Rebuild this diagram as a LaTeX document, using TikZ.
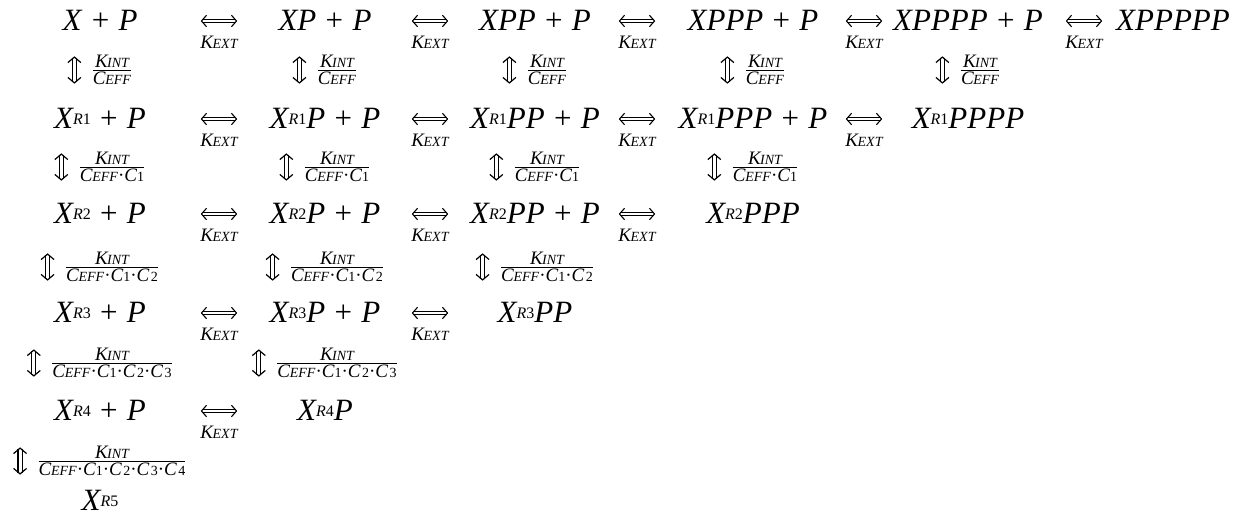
\documentclass[tikz,border=0pt]{standalone}
\usepackage{fontspec}
\setmainfont{Liberation Serif}
\usetikzlibrary{arrows.meta,positioning}
\newcommand{\spc}{\hspace{0.3em}}
\newcommand{\pls}{\spc\textup{+}\spc}
\newcommand{\Rs}[1]{\raisebox{4pt}{\fontsize{16}{16}\selectfont R\textup{#1}}}
\newcommand{\Ksub}[1]{K\kern-0.5pt{\fontsize{14}{14}\selectfont #1}}
\newcommand{\Csub}[1]{C\kern-0.3pt{\fontsize{14}{14}\selectfont #1}}
\newcommand{\Cn}[1]{C{\fontsize{14}{14}\selectfont\upshape #1}}
\newcommand{\cdt}{\textup{·}}
\newcommand{\kfrac}[2]{$\textstyle{\mbox{#1}\above 1.1pt\mbox{#2}}$}
\begin{document}
\begin{tikzpicture}[x=1pt,y=-1pt,
  sp/.style={anchor=base, inner sep=0pt, font=\fontsize{31}{31}\selectfont\itshape},
  kl/.style={anchor=base, inner sep=0pt, font=\fontsize{19}{19}\selectfont\itshape},
  fr/.style={anchor=base, inner sep=0pt, font=\fontsize{19}{19}\selectfont\itshape},
  tipb/.tip={Straight Barb[length=5pt, width=11.5pt, line width=1.1pt]},
  tipv/.tip={Straight Barb[length=5.5pt, width=13pt, line width=1.2pt]},
  dbl/.style={double, double distance=2.8pt, line width=1pt, tipb-tipb},
  dblv/.style={double, double distance=3pt, line width=1.1pt, tipv-tipv},
  harr/.style={minimum width=36pt, minimum height=11pt, inner sep=0pt,
    append after command={(\tikzlastnode.west) edge[dbl] (\tikzlastnode.east)}},
  varr/.style={minimum width=14pt, minimum height=27pt, inner sep=0pt,
    append after command={(\tikzlastnode.north) edge[dblv] (\tikzlastnode.south)}}]
\useasboundingbox (0,0) rectangle (1252,522);
% species
\node[sp] (s11) at (100,30) {X\pls P};
\node[sp] (s12) at (325,30) {XP\pls P};
\node[sp] (s13) at (535,30) {XPP\pls P};
\node[sp] (s14) at (753,30) {XPPP\pls P};
\node[sp] (s15) at (968,30) {XPPPP\pls P};
\node[sp] (s16) at (1173,30) {XPPPPP};
\node[sp] (s21) at (100,128) {X\Rs{1}\pls P};
\node[sp] (s22) at (325,128) {X\Rs{1}P\pls P};
\node[sp] (s23) at (535,128) {X\Rs{1}PP\pls P};
\node[sp] (s24) at (753,128) {X\Rs{1}PPP\pls P};
\node[sp] (s25) at (968,128) {X\Rs{1}PPPP};
\node[sp] (s31) at (100,223) {X\Rs{2}\pls P};
\node[sp] (s32) at (325,223) {X\Rs{2}P\pls P};
\node[sp] (s33) at (535,223) {X\Rs{2}PP\pls P};
\node[sp] (s34) at (753,223) {X\Rs{2}PPP};
\node[sp] (s41) at (100,322) {X\Rs{3}\pls P};
\node[sp] (s42) at (325,322) {X\Rs{3}P\pls P};
\node[sp] (s43) at (535,322) {X\Rs{3}PP};
\node[sp] (s51) at (100,420) {X\Rs{4}\pls P};
\node[sp] (s52) at (325,420) {X\Rs{4}P};
\node[sp] (s61) at (100,510) {X\Rs{5}};
% horizontal equilibria
\foreach \r/\y/\n in {1/30/5, 2/128/4, 3/223/3, 4/322/2, 5/420/1} {
  \foreach \x [count=\c] in {219,430,637,864,1084} {
    \ifnum\c>\n\relax\else
      \node[harr] (h\r\c) at (\x,\y-9) {};
      \node[kl] (k\r\c) at (\x,\y+18) {\Ksub{EXT}};
    \fi
  }
}
% vertical equilibria
\foreach \r/\y/\n/\den in {
  1/70/5/{\Csub{EFF}},
  2/167/4/{\Csub{EFF}\cdt\Cn{1}},
  3/267/3/{\Csub{EFF}\cdt\Cn{1}\cdt\Cn{\kern1.5pt 2}},
  4/363/2/{\Csub{EFF}\cdt\Cn{1}\cdt\Cn{\kern1.5pt 2}\cdt\Cn{\kern1.5pt 3}},
  5/461/1/{\Csub{EFF}\cdt\Cn{1}\cdt\Cn{\kern1.5pt 2}\cdt\Cn{\kern1.5pt 3}\cdt\Cn{\kern1.5pt 4}}} {
  \foreach \x [count=\c] in {100,325,535,753,968} {
    \ifnum\c>\n\relax\else
      \coordinate (b\r\c) at (\x,\y);
      \node[fr] (f\r\c) at (\x+12,\y+4.7) {\kfrac{\Ksub{INT}}{\den}};
      \node[varr, anchor=east, xshift=-10pt] (v\r\c) at (f\r\c.west |- b\r\c) {};
    \fi
  }
}
\end{tikzpicture}
\end{document}
